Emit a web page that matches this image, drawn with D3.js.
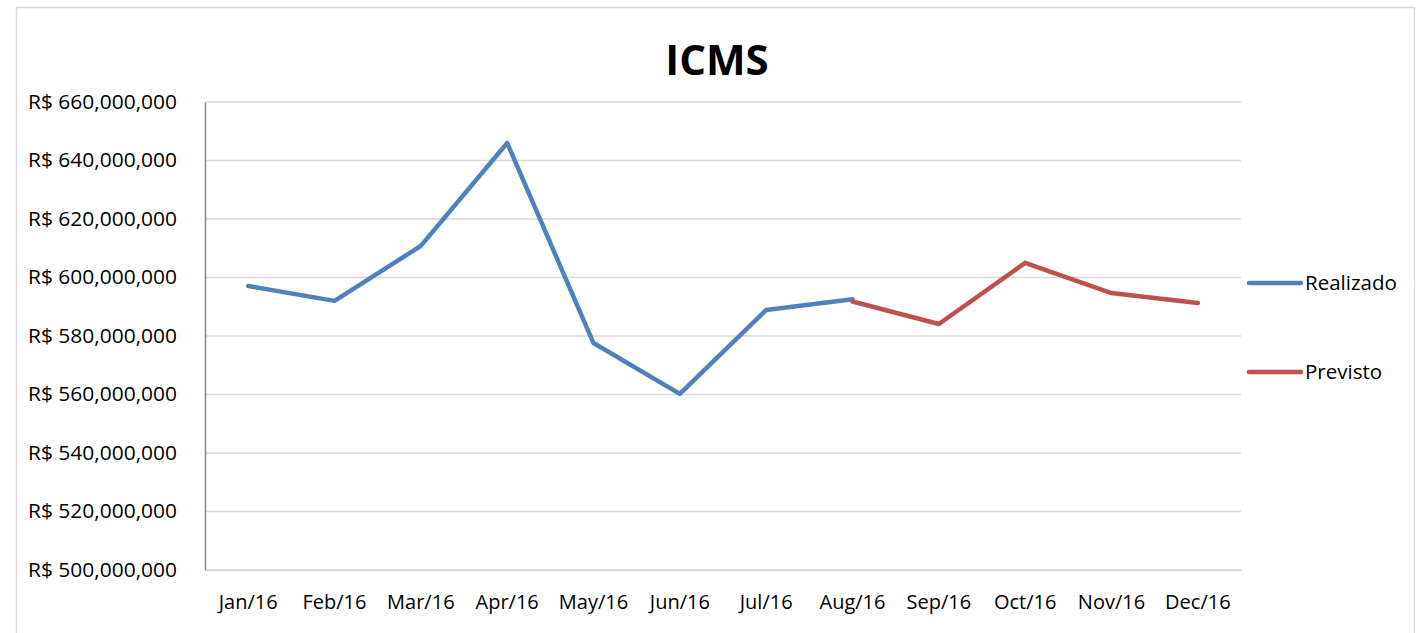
<!DOCTYPE html>
<html>
<head>
<meta charset="utf-8">
<script src="https://cdn.jsdelivr.net/npm/d3@7"></script>
<style>
  body { margin: 0; background: #fff; }
  svg { display: block; font-family: "Open Sans", "Noto Sans", sans-serif; }
</style>
</head>
<body>
<div id="chart"></div>
<script>
var months = ['Jan/16', 'Feb/16', 'Mar/16', 'Apr/16', 'May/16', 'Jun/16',
              'Jul/16', 'Aug/16', 'Sep/16', 'Oct/16', 'Nov/16', 'Dec/16'];
// values in R$
var realizado = [597100000, 592000000, 610800000, 646000000, 577600000, 560200000,
                 588900000, 592600000, null, null, null, null];
var previsto = [null, null, null, null, null, null,
                null, 591800000, 584100000, 605000000, 594700000, 591300000];
var yTicks = [500000000, 520000000, 540000000, 560000000, 580000000,
              600000000, 620000000, 640000000, 660000000];

var width = 1416, height = 633;
var margin = {top: 102, right: 175, bottom: 63, left: 205};
var fontFam = '"Open Sans", "Noto Sans", sans-serif';

var svg = d3.select('#chart').append('svg')
    .attr('width', width)
    .attr('height', height);

// outer chart border
svg.append('rect')
    .attr('x', 16.5).attr('y', 7.5)
    .attr('width', 1398).attr('height', 700)
    .attr('fill', 'none')
    .attr('stroke', '#d9d9d9')
    .attr('stroke-width', 1.5);

var x = d3.scaleBand()
    .domain(months)
    .range([margin.left, width - margin.right]);

var y = d3.scaleLinear()
    .domain([500000000, 660000000])
    .range([height - margin.bottom, margin.top]);

// gridlines
svg.append('g')
    .selectAll('line')
    .data(yTicks)
    .enter().append('line')
    .attr('x1', margin.left).attr('x2', width - margin.right)
    .attr('y1', function (d) { return y(d); })
    .attr('y2', function (d) { return y(d); })
    .attr('stroke', '#d9d9d9')
    .attr('stroke-width', 1.5);

// y axis
var fmt = d3.format(',');
var yAxis = svg.append('g')
    .attr('transform', 'translate(' + margin.left + ',0)')
    .call(d3.axisLeft(y).tickValues(yTicks).tickSize(0).tickPadding(28)
        .tickFormat(function (d) { return 'R$ ' + fmt(d); }));
yAxis.attr('font-family', fontFam);
yAxis.select('.domain').attr('stroke', '#868686').attr('stroke-width', 1.5);
yAxis.selectAll('text')
    .attr('font-size', '20px')
    .attr('fill', '#000')
    .attr('textLength', 149)
    .attr('lengthAdjust', 'spacingAndGlyphs');

// x axis
var xAxis = svg.append('g')
    .attr('transform', 'translate(0,' + (height - margin.bottom) + ')')
    .call(d3.axisBottom(x).tickSize(0).tickPadding(25));
xAxis.attr('font-family', fontFam);
xAxis.select('.domain').attr('stroke', '#d9d9d9').attr('stroke-width', 1.5);
xAxis.selectAll('text')
    .attr('font-size', '20px')
    .attr('fill', '#000');

var line = d3.line()
    .defined(function (d) { return d != null; })
    .x(function (d, i) { return x(months[i]) + x.bandwidth() / 2; })
    .y(function (d) { return y(d); });

var series = [
    {name: 'Realizado', values: realizado, color: '#4f81bd'},
    {name: 'Previsto', values: previsto, color: '#c0504d'}
];

series.forEach(function (s) {
    svg.append('path')
        .datum(s.values)
        .attr('d', line)
        .attr('fill', 'none')
        .attr('stroke', s.color)
        .attr('stroke-width', 4.5)
        .attr('stroke-linejoin', 'round')
        .attr('stroke-linecap', 'round');
});

// legend
series.forEach(function (s, i) {
    var ly = 283 + i * 89;
    svg.append('line')
        .attr('x1', 1249).attr('x2', 1301)
        .attr('y1', ly).attr('y2', ly)
        .attr('stroke', s.color)
        .attr('stroke-width', 4.5)
        .attr('stroke-linecap', 'round');
    svg.append('text')
        .attr('x', 1305).attr('y', ly + 7)
        .attr('font-size', '20.5px')
        .text(s.name);
});

// title
svg.append('text')
    .attr('x', 717).attr('y', 75)
    .attr('text-anchor', 'middle')
    .attr('font-size', '42px')
    .attr('font-weight', 'bold')
    .text('ICMS');
</script>
</body>
</html>
